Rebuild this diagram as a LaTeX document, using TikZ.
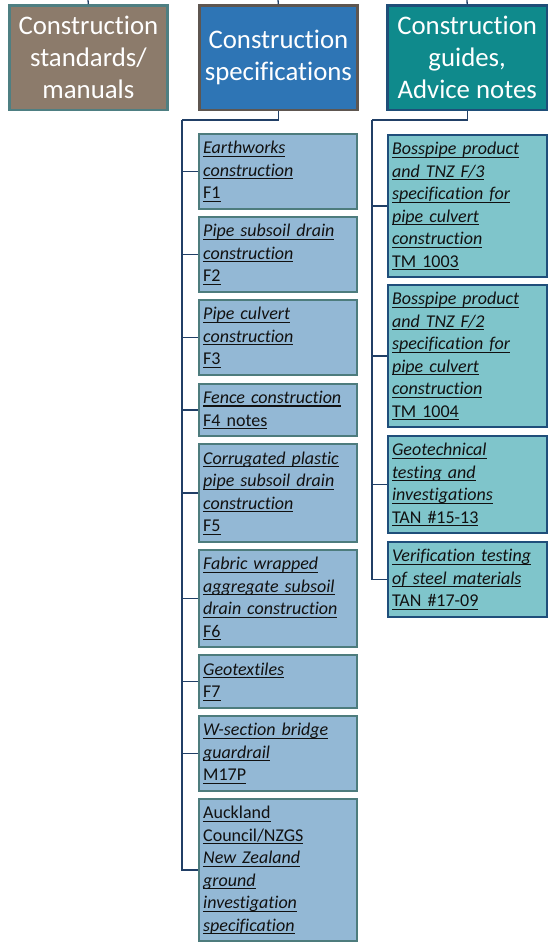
\documentclass[tikz,border=0pt]{standalone}
\usepackage{fontspec}
\setmainfont{Carlito}[Ligatures=NoCommon]
\definecolor{lfill}{HTML}{8C7B6B}
\definecolor{lbord}{HTML}{4E7F82}
\definecolor{sfill}{HTML}{2E75B5}
\definecolor{sbord}{HTML}{5E5650}
\definecolor{gfill}{HTML}{0F8A8C}
\definecolor{gbord}{HTML}{1F4E78}
\definecolor{mfill}{HTML}{93B8D5}
\definecolor{mbord}{HTML}{4D7C7D}
\definecolor{rfill}{HTML}{7FC5CB}
\definecolor{rbord}{HTML}{1F4E7A}
\definecolor{lnc}{HTML}{213F66}
\definecolor{txt}{HTML}{111111}
\newcommand\myul[1]{\leavevmode\setbox0\hbox{#1}\rlap{\rule[-3pt]{\wd0}{1.1pt}}\box0}
\newcommand\ulit[1]{\myul{\itshape #1}}
\begin{document}
\begin{tikzpicture}[x=1pt,y=-1pt,
 hdr/.style={anchor=north west, minimum width=158pt, minimum height=104.6pt, line width=2.4pt, text=white, align=center, font=\fontsize{26.8}{32}\selectfont, inner sep=0pt},
 mch/.style={anchor=north west, draw=mbord, fill=mfill, line width=2.2pt, minimum width=158pt, text width=150pt, inner xsep=4pt, inner ysep=0pt, align=left, font=\fontsize{18}{22.5}\selectfont, text=txt},
 rch/.style={mch, draw=rbord, fill=rfill, minimum width=159pt, text width=151pt},
 conn/.style={draw=lnc, line width=1.3pt}]
\useasboundingbox (0,0) rectangle (548,945);
% headers
\node[hdr, draw=lbord, fill=lfill] (std) at (8.2,4.2) {Construction\\standards/\\manuals};
\node[hdr, draw=sbord, fill=sfill] (spec) at (198.2,4.2) {Construction\\specifications};
\node[hdr, draw=gbord, fill=gfill, minimum width=159.6pt] (gd) at (386.2,4.2) {Construction\\guides,\\Advice notes};
% top stubs
\coordinate (tstd) at (88,0);
\coordinate (tspec) at (278,0);
\coordinate (tgd) at (467,0);
\draw[conn] (std.north) -- (tstd);
\draw[conn] (spec.north) -- (tspec);
\draw[conn] (gd.north) -- (tgd);
% middle children
\node[mch, minimum height=74.8pt] (f1) at (198.1,133.1) {\ulit{Earthworks}\\\ulit{construction}\\\myul{F1}};
\node[mch, minimum height=74.8pt] (f2) at (198.1,216.1) {\ulit{Pipe subsoil drain}\\\ulit{construction}\\\myul{F2}};
\node[mch, minimum height=74.8pt] (f3) at (198.1,299.1) {\ulit{Pipe culvert}\\\ulit{construction}\\\myul{F3}};
\node[mch, minimum height=51.8pt] (f4) at (198.1,383.1) {\ulit{Fence construction}\\\myul{F4 notes}};
\node[mch, minimum height=97.8pt] (f5) at (198.1,443.1) {\ulit{Corrugated plastic}\\\ulit{pipe subsoil drain}\\\ulit{construction}\\\myul{F5}};
\node[mch, minimum height=96.8pt] (f6) at (198.1,549.1) {\ulit{Fabric wrapped}\\\ulit{aggregate subsoil}\\\ulit{drain construction}\\\myul{F6}};
\node[mch, minimum height=52.8pt] (f7) at (198.1,654.1) {\ulit{Geotextiles}\\\myul{F7}};
\node[mch, minimum height=74.8pt] (m17) at (198.1,715.1) {\ulit{W-section bridge}\\\ulit{guardrail}\\\myul{M17P}};
\node[mch, minimum height=141.8pt] (ak) at (198.1,798.1) {\myul{Auckland}\\\myul{Council/NZGS}\\\ulit{New Zealand}\\\ulit{ground}\\\ulit{investigation}\\\ulit{specification}};
% right children
\node[rch, minimum height=142pt] (tm3) at (387,134) {\ulit{Bosspipe product}\\\ulit{and TNZ F/3}\\\ulit{specification for}\\\ulit{pipe culvert}\\\ulit{construction}\\\myul{TM 1003}};
\node[rch, minimum height=142pt] (tm4) at (387,284) {\ulit{Bosspipe product}\\\ulit{and TNZ F/2}\\\ulit{specification for}\\\ulit{pipe culvert}\\\ulit{construction}\\\myul{TM 1004}};
\node[rch, minimum height=97pt] (t15) at (387,435) {\ulit{Geotechnical}\\\ulit{testing and}\\\ulit{investigations}\\\myul{TAN \#15-13}};
\node[rch, minimum height=75pt] (t17) at (387,541) {\ulit{Verification testing}\\\ulit{of steel materials}\\\myul{TAN \#17-09}};
% buses
\coordinate (mbus) at (182,120);
\coordinate (rbus) at (372,120);
\draw[conn] (spec.south) |- (mbus);
\draw[conn] (gd.south) |- (rbus);
\foreach \c in {f1,f2,f3,f4,f5,f6,f7,m17,ak} \draw[conn] (mbus) |- (\c.west);
\foreach \c in {tm3,tm4,t15,t17} \draw[conn] (rbus) |- (\c.west);
\end{tikzpicture}
\end{document}
